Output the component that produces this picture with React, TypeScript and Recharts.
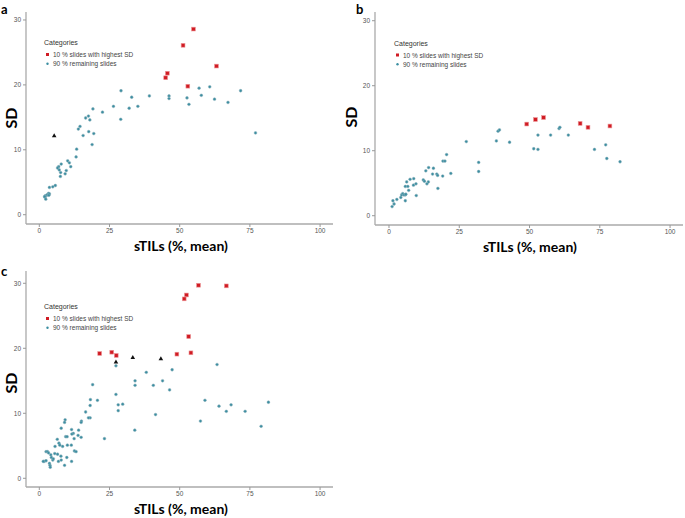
import { ScatterChart, Scatter, XAxis, YAxis } from 'recharts';

type Pt = [number, number];

const xTicks = [0, 25, 50, 75, 100];
const yTicks = [0, 10, 20, 30];
const legendLabels = ['10 % slides with highest SD', '90 % remaining slides'];

// panel a
const aHighest: Pt[] = [
    [54.9, 28.6], [51.2, 26.1], [63.1, 22.9], [45.6, 21.8], [45.0, 21.1], [52.9, 19.8],
];
const aFlagged: Pt[] = [[5.3, 12.2]];
const aRemaining: Pt[] = [
    [29.1, 19.1], [39.2, 18.3], [32.9, 18.1], [46.2, 18.3], [46.2, 17.9], [52.6, 18.0],
    [53.3, 17.0], [56.9, 19.5], [57.7, 18.4], [60.7, 19.7], [62.4, 17.8], [67.2, 17.3],
    [71.7, 19.1], [77.0, 12.6], [26.4, 16.7], [22.5, 15.8], [32.0, 16.4], [35.1, 16.7],
    [29.0, 14.7], [19.1, 16.3], [16.5, 14.9], [17.5, 15.2], [18.0, 14.6], [14.5, 13.6],
    [13.9, 13.2], [15.6, 12.2], [17.6, 12.8], [19.4, 12.5], [18.8, 10.8], [13.3, 10.1],
    [13.1, 8.9], [10.1, 8.3], [10.7, 8.0], [11.2, 7.4], [7.8, 7.8], [6.9, 7.4],
    [6.5, 7.2], [7.1, 6.9], [7.6, 6.5], [9.6, 6.8], [9.2, 6.3], [7.5, 5.9],
    [5.7, 4.5], [4.8, 4.3], [3.6, 4.2], [3.3, 3.3], [3.0, 3.1], [3.6, 3.2],
    [2.6, 3.0], [2.1, 2.9], [2.0, 2.7], [2.3, 2.4], [1.9, 2.8], [3.4, 3.0],
];

// panel b
const bHighest: Pt[] = [
    [49.0, 14.1], [52.1, 14.8], [55.0, 15.1], [68.0, 14.2], [70.8, 13.6], [78.6, 13.8],
];
const bFlagged: Pt[] = [];
const bRemaining: Pt[] = [
    [1.1, 1.4], [1.4, 2.3], [1.8, 1.8], [2.8, 2.5], [4.2, 2.8], [4.5, 3.2],
    [4.9, 3.4], [5.3, 3.2], [5.8, 3.2], [5.8, 2.3], [6.0, 3.3], [5.8, 4.5],
    [6.3, 5.2], [6.7, 4.5], [7.0, 3.9], [7.5, 5.6], [8.7, 4.7], [8.8, 5.7],
    [9.6, 4.9], [9.7, 3.1], [12.2, 5.5], [12.6, 5.3], [13.1, 6.9], [14.0, 5.2],
    [13.5, 4.9], [14.1, 7.4], [15.8, 7.3], [15.5, 6.4], [17.0, 6.4], [17.3, 6.2],
    [17.4, 4.2], [19.2, 8.4], [19.9, 8.4], [20.5, 9.4], [19.1, 6.1], [22.0, 6.5],
    [27.5, 11.4], [38.2, 11.5], [38.8, 13.0], [39.3, 13.2], [42.9, 11.3], [31.9, 8.2],
    [31.9, 6.8], [51.5, 10.3], [53.0, 10.2], [53.0, 12.4], [57.5, 12.4], [60.5, 13.4],
    [60.8, 13.6], [63.8, 12.4], [73.1, 10.2], [77.1, 10.9], [77.5, 8.8], [82.2, 8.3],
];

// panel c
const cHighest: Pt[] = [
    [56.7, 29.7], [66.6, 29.6], [52.4, 28.2], [51.6, 27.6], [53.2, 21.8], [54.0, 19.3],
    [49.0, 19.1], [21.5, 19.2], [25.8, 19.4], [27.4, 18.9],
];
const cFlagged: Pt[] = [[27.3, 17.9], [33.3, 18.6], [43.3, 18.4]];
const cRemaining: Pt[] = [
    [27.3, 17.3], [27.3, 12.9], [28.1, 11.3], [29.7, 11.4], [28.1, 10.4], [34.1, 15.0],
    [34.1, 14.3], [38.1, 16.3], [43.9, 15.0], [47.3, 16.7], [40.6, 14.3], [46.4, 13.6],
    [41.4, 9.8], [34.0, 7.4], [23.2, 6.1], [20.7, 12.0], [18.2, 12.1], [18.1, 11.2],
    [19.0, 14.4], [59.0, 12.0], [63.3, 17.5], [57.4, 8.8], [64.0, 11.1], [66.6, 10.3],
    [68.3, 11.3], [73.3, 10.3], [79.0, 8.0], [81.6, 11.7],
    [16.5, 10.2], [18.1, 9.3], [17.5, 9.3], [15.0, 8.8], [14.9, 8.6], [9.2, 9.0],
    [9.0, 8.6], [7.8, 7.7], [11.5, 7.5], [12.1, 6.9], [11.6, 6.8], [14.0, 7.4],
    [13.8, 6.6], [14.9, 6.3], [9.4, 6.4], [9.9, 6.4], [12.4, 6.1], [11.4, 5.1],
    [10.0, 5.1], [6.4, 6.0], [5.6, 4.9], [7.0, 5.4], [7.3, 5.1], [8.3, 4.9],
    [12.5, 4.2], [13.1, 4.1], [2.4, 4.1], [2.9, 4.1], [3.3, 3.9], [4.1, 3.6],
    [4.3, 3.2], [5.5, 3.8], [6.5, 3.7], [7.7, 3.4], [4.8, 2.8], [5.0, 3.0],
    [1.7, 2.6], [2.4, 2.7], [3.6, 2.3], [3.8, 2.0], [6.8, 2.6], [7.8, 2.8],
    [9.0, 2.0], [9.8, 3.2], [11.5, 2.6], [1.4, 2.6], [3.9, 1.7],
];

const TEAL = '#3a8ea1';
const RED = '#d01c24';

const toPts = (arr: Pt[]) => arr.map(([x, y]) => ({ x, y }));

const TealDot = (p: any) => (
    <circle cx={p.cx} cy={p.cy} r={1.4} fill={TEAL} stroke="#93b3bc" strokeWidth={0.5} />
);
const RedSquare = (p: any) => (
    <rect x={p.cx - 1.9} y={p.cy - 1.9} width={3.8} height={3.8} fill={RED} stroke="#ec9597" strokeWidth={0.6} />
);
const BlackTriangle = (p: any) => (
    <polygon
        points={`${p.cx},${p.cy - 2.4} ${p.cx - 2.3},${p.cy + 1.6} ${p.cx + 2.3},${p.cy + 1.6}`}
        fill="#111"
    />
);

const tickStyle = { fontSize: 6.5, fill: '#555', fontFamily: '"Liberation Sans", Arial, sans-serif' };
const axisLine = { stroke: '#aaa', strokeWidth: 1.3 };

interface PanelProps {
    left: number;
    top: number;
    width: number;
    height: number;
    yAxisWidth: number;
    margin: { top: number; right: number; bottom: number; left: number };
    xDomain: [number, number];
    yDomain: [number, number];
    remaining: Pt[];
    highest: Pt[];
    flagged: Pt[];
}

const Panel = ({ left, top, width, height, yAxisWidth, margin, xDomain, yDomain, remaining, highest, flagged }: PanelProps) => (
    <div style={{ position: 'absolute', left, top, width, height }}>
        <ScatterChart width={width} height={height} margin={margin}>
            <XAxis
                type="number"
                dataKey="x"
                domain={xDomain}
                ticks={xTicks}
                interval={0}
                allowDataOverflow
                height={20}
                tickSize={3}
                tickMargin={1}
                tick={tickStyle}
                axisLine={axisLine}
                tickLine={{ stroke: '#999' }}
            />
            <YAxis
                type="number"
                dataKey="y"
                domain={yDomain}
                ticks={yTicks}
                interval={0}
                allowDataOverflow
                width={yAxisWidth}
                tickSize={3}
                tickMargin={2}
                tick={tickStyle}
                axisLine={axisLine}
                tickLine={{ stroke: '#999' }}
            />
            <Scatter data={toPts(remaining)} shape={TealDot} isAnimationActive={false} />
            <Scatter data={toPts(highest)} shape={RedSquare} isAnimationActive={false} />
            <Scatter data={toPts(flagged)} shape={BlackTriangle} isAnimationActive={false} />
        </ScatterChart>
    </div>
);

const LegendBlock = ({ x, y }: { x: number; y: number }) => (
    <g fontFamily='"Liberation Sans", Arial, sans-serif'>
        <text x={x} y={y} fontSize={7} fill="#333">Categories</text>
        <rect x={x + 2} y={y + 8} width={3} height={3} fill={RED} />
        <text x={x + 9} y={y + 12.3} fontSize={6.5} fill="#444">{legendLabels[0]}</text>
        <circle cx={x + 3.5} cy={y + 18.8} r={1.2} fill={TEAL} />
        <text x={x + 9} y={y + 21.3} fontSize={6.5} fill="#444">{legendLabels[1]}</text>
    </g>
);

const titleFont = 'Lato, "Open Sans", sans-serif';

const App = () => (
    <div style={{ position: 'absolute', left: 0, top: 0, width: 685, height: 518, background: '#fff', overflow: 'hidden' }}>
        <Panel
            left={0} top={0} width={340} height={255} yAxisWidth={26}
            margin={{ top: 12, right: 7, bottom: 11, left: 0 }}
            xDomain={[-4.74, 104.6]} yDomain={[-1.43, 31.23]}
            remaining={aRemaining} highest={aHighest} flagged={aFlagged}
        />
        <Panel
            left={340} top={0} width={345} height={255} yAxisWidth={35}
            margin={{ top: 12, right: 2, bottom: 10, left: 0 }}
            xDomain={[-4.98, 104.6]} yDomain={[-1.43, 31.34]}
            remaining={bRemaining} highest={bHighest} flagged={bFlagged}
        />
        <Panel
            left={0} top={255} width={340} height={263} yAxisWidth={26}
            margin={{ top: 16, right: 7, bottom: 11, left: 0 }}
            xDomain={[-4.74, 104.6]} yDomain={[-1.34, 31.89]}
            remaining={cRemaining} highest={cHighest} flagged={cFlagged}
        />
        <svg width={685} height={518} style={{ position: 'absolute', left: 0, top: 0, pointerEvents: 'none' }}>
            <g fontFamily={titleFont} fontWeight="bold" fill="#000">
                <text x={1} y={13.5} fontSize={13}>a</text>
                <text x={356} y={13.5} fontSize={13}>b</text>
                <text x={1} y={276} fontSize={13}>c</text>
                <text x={181} y={251} fontSize={14} textAnchor="middle">sTILs (%, mean)</text>
                <text x={530} y={251.5} fontSize={14} textAnchor="middle">sTILs (%, mean)</text>
                <text x={181} y={514} fontSize={14} textAnchor="middle">sTILs (%, mean)</text>
                <text transform="translate(17,118) rotate(-90)" fontSize={16} textAnchor="middle">SD</text>
                <text transform="translate(357,117) rotate(-90)" fontSize={16} textAnchor="middle">SD</text>
                <text transform="translate(17,383) rotate(-90)" fontSize={16} textAnchor="middle">SD</text>
            </g>
            <LegendBlock x={44} y={45} />
            <LegendBlock x={394} y={45.5} />
            <LegendBlock x={44} y={309} />
        </svg>
    </div>
);

export default App;
